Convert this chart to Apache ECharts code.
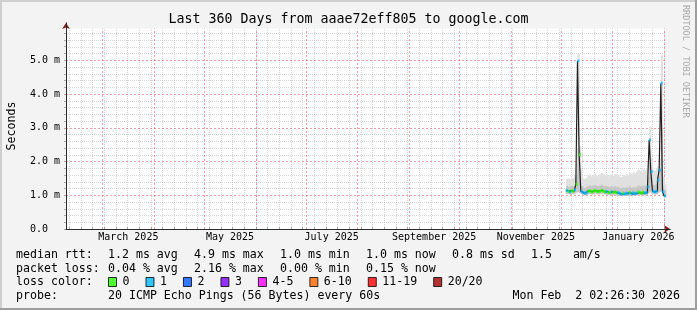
<!DOCTYPE html>
<html><head><meta charset="utf-8">
<script src="https://cdn.jsdelivr.net/npm/echarts@6/dist/echarts.min.js"></script>
<style>html,body{margin:0;padding:0;background:#f3f3f3}#c{width:697px;height:310px}</style>
</head><body><div id="c"></div>
<script>
// ---------- data ----------
const title = 'Last 360 Days from aaae72eff805 to google.com';
const rangeStart = '2025-02-07T02:26:30';
const rangeEnd = '2026-02-02T02:26:30';
const monthStarts = ['2025-03-01','2025-04-01','2025-05-01','2025-06-01','2025-07-01','2025-08-01',
  '2025-09-01','2025-10-01','2025-11-01','2025-12-01','2026-01-01','2026-02-01'];
const tickLabels = ['March 2025','May 2025','July 2025','September 2025','November 2025','January 2026'];
const tickLabelTimes = ['2025-03-16T12:00:00','2025-05-16T12:00:00','2025-07-16T12:00:00',
  '2025-09-16T00:00:00','2025-11-16T00:00:00','2026-01-16T12:00:00'];
const yTickValues = [0, 1, 2, 3, 4, 5];

const days = ['2025-12-04','2025-12-05','2025-12-06','2025-12-07','2025-12-08','2025-12-09','2025-12-10',
  '2025-12-11','2025-12-12','2025-12-13','2025-12-14','2025-12-15','2025-12-16','2025-12-17','2025-12-18',
  '2025-12-19','2025-12-20','2025-12-21','2025-12-22','2025-12-23','2025-12-24','2025-12-25','2025-12-26',
  '2025-12-27','2025-12-28','2025-12-29','2025-12-30','2025-12-31',
  '2026-01-01','2026-01-02','2026-01-03','2026-01-04','2026-01-05','2026-01-06','2026-01-07','2026-01-08',
  '2026-01-09','2026-01-10','2026-01-11','2026-01-12','2026-01-13','2026-01-14','2026-01-15','2026-01-16',
  '2026-01-17','2026-01-18','2026-01-19','2026-01-20','2026-01-21','2026-01-22','2026-01-23','2026-01-24',
  '2026-01-25','2026-01-26','2026-01-27','2026-01-28','2026-01-29','2026-01-30','2026-01-31','2026-02-01'];
// median RTT (ms)
const median = [1.14,1.12,1.10,1.13,1.12,1.16,1.32,4.98,2.20,1.12,1.08,1.06,1.08,1.12,1.13,1.10,1.12,1.14,1.12,1.10,
  1.12,1.15,1.12,1.10,1.11,1.09,1.08,1.10,
  1.08,1.10,1.07,1.08,1.05,1.03,1.06,1.04,1.06,1.05,1.08,1.04,1.07,1.05,1.06,1.10,1.08,1.06,1.09,1.07,1.08,1.25,
  2.64,1.70,1.12,1.10,1.12,1.45,1.75,4.32,1.10,0.98];
// smoke (ms): lowest ping, top of inner band, top of outer band
const smokeLo = [1.04,1.03,1.02,1.04,1.03,1.05,1.08,1.10,1.06,1.03,1.00,0.99,1.00,1.03,1.04,1.02,1.03,1.05,1.03,1.02,
  1.03,1.05,1.03,1.02,1.02,1.01,1.00,1.02,
  1.00,1.02,0.99,1.00,0.98,0.97,0.99,0.98,0.99,0.98,1.00,0.97,0.99,0.98,0.99,1.02,1.00,0.99,1.01,0.99,1.00,1.06,
  1.10,1.05,1.03,1.02,1.03,1.08,1.10,1.12,1.02,0.94];
const smokeMid = [1.28,1.26,1.25,1.28,1.27,1.32,1.60,2.40,1.80,1.28,1.24,1.22,1.25,1.28,1.30,1.27,1.29,1.31,1.28,1.27,
  1.29,1.32,1.29,1.27,1.28,1.26,1.25,1.27,
  1.25,1.28,1.24,1.26,1.22,1.21,1.24,1.22,1.24,1.23,1.27,1.22,1.25,1.23,1.25,1.30,1.28,1.26,1.30,1.28,1.30,1.55,
  1.95,1.55,1.32,1.30,1.33,1.55,1.75,3.00,1.28,1.15];
const smokeHi = [1.48,1.50,1.46,1.52,1.50,1.56,1.95,5.20,2.45,1.55,1.50,1.48,1.52,1.58,1.62,1.56,1.60,1.64,1.58,1.56,
  1.62,1.66,1.62,1.58,1.60,1.56,1.58,1.62,
  1.58,1.62,1.56,1.60,1.55,1.54,1.60,1.58,1.62,1.60,1.66,1.62,1.68,1.64,1.70,1.76,1.72,1.68,1.78,1.74,1.80,1.95,
  3.03,2.10,1.75,1.72,1.80,1.85,2.10,5.15,1.55,1.32];
// loss class index per day (0 -> "0", 1 -> "1", ...)
const lossClass = [1,0,1,0,0,1,0,1,0,1,1,1,1,0,0,0,0,0,0,0,0,0,0,0,1,0,0,1,
  0,0,0,1,1,1,0,1,1,1,0,1,1,1,1,0,0,0,0,1,1,1,1,1,1,1,1,1,1,1,1,1];
const lossNames = ['0','1','2','3','4-5','6-10','11-19','20/20'];
const lossColors = ['#26ff00','#00b8ff','#0059ff','#7e00ff','#ff00ff','#ff6600','#ff0000','#a10000'];

const legendRow1 = [['median rtt:',16],['1.2 ms avg',108],['4.9 ms max',194],['1.0 ms min',280],['1.0 ms now',366],['0.8 ms sd',452],['1.5   am/s',531]];
const legendRow2 = [['packet loss:',16],['0.04 % avg',108],['2.16 % max',194],['0.00 % min',280],['0.15 % now',366]];
const legendRow3 = [['loss color:',16]];
const legendRow4 = [['probe:',16],['20 ICMP Echo Pings (56 Bytes) every 60s',108]];
const stampText = 'Mon Feb  2 02:26:30 2026';
const watermark = 'RRDTOOL / TOBI OETIKER';

// ---------- helpers ----------
const DAY = 86400000;
const utc = s => Date.parse(s.length === 10 ? s + 'T00:00:00Z' : s + 'Z');
const noon = s => Date.parse(s + 'T12:00:00Z');
const X_MIN = utc(rangeStart);
const T_END = utc(rangeEnd);
const X_MAX = X_MIN + 362.4 * DAY;     // axis continues past the canvas to the arrow
const Y_MAX = 206 / 33.75;             // axis continues above the canvas to the arrow
const CANVAS_TOP = 5.94;
const MONO = '"DejaVu Sans Mono", monospace';

const labelTimes = tickLabelTimes.map(utc);
const dayTimes = days.map(noon);

const weekLines = [];
for (let t = utc('2025-02-09'); t < T_END; t += 7 * DAY) weekLines.push(t);
const minorY = [];
for (let i = 1; i * 0.2 < CANVAS_TOP; i++) if (i % 5) minorY.push(+(i * 0.2).toFixed(1));

const minorStyle = { color: 'rgba(143,143,143,0.38)', width: 1, type: [1, 1] };
const majorStyle = { color: 'rgba(222,48,48,0.45)', width: 1, type: [2, 2] };
const gridLines = [];
weekLines.forEach(t => gridLines.push([{ coord: [t, 0], lineStyle: minorStyle }, { coord: [t, CANVAS_TOP] }]));
minorY.forEach(v => gridLines.push([{ coord: [X_MIN, v], lineStyle: minorStyle }, { coord: [T_END, v] }]));
monthStarts.map(utc).forEach(t => gridLines.push([{ coord: [t, 0], lineStyle: majorStyle }, { coord: [t, CANVAS_TOP] }]));
yTickValues.slice(1).forEach(v => gridLines.push([{ coord: [X_MIN, v], lineStyle: majorStyle }, { coord: [T_END, v] }]));

const pts = arr => dayTimes.map((t, i) => [t, arr[i]]);
const smokeData = dayTimes.map((t, i) => [t, smokeLo[i], smokeMid[i], smokeHi[i]]);

const lossSeries = lossNames.map((name, k) => ({
  name, type: 'scatter', z: 6, symbol: 'rect', symbolSize: [2, 3], silent: true,
  itemStyle: { color: lossColors[k] },
  data: dayTimes.map((t, i) => lossClass[i] === k ? [t, median[i]] : null).filter(Boolean)
}));

const textEl = (text, x, y, extra) => ({
  type: 'text', x, y, silent: true,
  style: Object.assign({ text, fontFamily: MONO, fontSize: 11.6, fill: '#000',
    textAlign: 'left', textVerticalAlign: 'middle', align: 'left', verticalAlign: 'middle' }, extra || {})
});
const graphics = [
  { type: 'rect', shape: { x: 0, y: 0, width: 697, height: 2 }, style: { fill: '#cfcfcf' }, silent: true },
  { type: 'rect', shape: { x: 0, y: 0, width: 2, height: 310 }, style: { fill: '#cfcfcf' }, silent: true },
  { type: 'rect', shape: { x: 695, y: 0, width: 2, height: 310 }, style: { fill: '#9e9e9e' }, silent: true },
  { type: 'rect', shape: { x: 0, y: 308, width: 697, height: 2 }, style: { fill: '#9e9e9e' }, silent: true }
];
legendRow1.forEach(([s, x]) => graphics.push(textEl(s, x, 255)));
legendRow2.forEach(([s, x]) => graphics.push(textEl(s, x, 268.5)));
legendRow3.forEach(([s, x]) => graphics.push(textEl(s, x, 282)));
legendRow4.forEach(([s, x]) => graphics.push(textEl(s, x, 296)));
graphics.push(textEl(stampText, 680, 296, { textAlign: 'right', align: 'right' }));
graphics.push({ type: 'text', x: 690, y: 5, rotation: -Math.PI / 2, silent: true,
  style: { text: watermark, fontFamily: MONO, fontSize: 8.5, fill: '#a8a8a8', textAlign: 'left', align: 'left' } });

const axisFont = { fontFamily: MONO, fontSize: 10, color: '#000' };

const option = {
  animation: false,
  backgroundColor: '#f3f3f3',
  title: { text: title, left: 'center', top: 13, padding: 0,
    textStyle: { fontFamily: MONO, fontSize: 13.3, fontWeight: 'normal', color: '#000' } },
  grid: { left: 66, top: 23, width: 604, height: 206, containLabel: false, outerBoundsMode: 'none' },
  legend: {
    data: lossNames, left: 108, top: 276, padding: 0, icon: 'rect', itemWidth: 8, itemHeight: 9, itemGap: 16,
    selectedMode: false, itemStyle: { borderColor: '#000', borderWidth: 1 },
    textStyle: { fontFamily: MONO, fontSize: 11.6, color: '#000', padding: [0, 0, 0, 1] }
  },
  xAxis: [
    { type: 'value', position: 'bottom', min: X_MIN, max: X_MAX, z: 10,
      axisLine: { onZero: false, lineStyle: { color: '#2c2c2c', width: 1 } },
      axisTick: { show: true, inside: true, length: 2, customValues: weekLines,
        lineStyle: { color: 'rgba(143,143,143,0.7)' } },
      axisLabel: Object.assign({ customValues: labelTimes, margin: 3,
        formatter: v => { const i = labelTimes.findIndex(t => Math.abs(t - v) < 3600000); return i >= 0 ? tickLabels[i] : ''; } }, axisFont),
      splitLine: { show: false } },
    { type: 'value', position: 'bottom', min: X_MIN, max: X_MAX, z: 9,
      axisLine: { onZero: false, symbol: ['none', 'arrow'], symbolSize: [6, 6], lineStyle: { color: '#7f1f1f', width: 1 } },
      axisTick: { show: false }, axisLabel: { show: false }, splitLine: { show: false } }
  ],
  yAxis: [
    { type: 'value', position: 'left', min: 0, max: Y_MAX, z: 10,
      axisLine: { show: true, onZero: false, lineStyle: { color: '#2c2c2c', width: 1 } },
      axisTick: { show: true, length: 2, customValues: minorY.concat(yTickValues),
        lineStyle: { color: 'rgba(143,143,143,0.7)' } },
      axisLabel: Object.assign({ customValues: yTickValues, align: 'left', margin: 36,
        formatter: v => v === 0 ? '0.0' : v.toFixed(1) + ' m' }, axisFont),
      splitLine: { show: false },
      name: 'Seconds', nameLocation: 'middle', nameGap: 48, nameRotate: 90,
      nameTextStyle: { fontFamily: MONO, fontSize: 11.6, color: '#000' } },
    { type: 'value', position: 'left', min: 0, max: Y_MAX, z: 9,
      axisLine: { show: true, onZero: false, symbol: ['none', 'arrow'], symbolSize: [6, 6], lineStyle: { color: '#7f1f1f', width: 1 } },
      axisTick: { show: false }, axisLabel: { show: false }, splitLine: { show: false } }
  ],
  graphic: graphics,
  series: [
    { name: 'canvas', type: 'line', data: [], z: 1, silent: true,
      markArea: { silent: true, z: 1, itemStyle: { color: '#ffffff' },
        data: [[{ coord: [X_MIN, 0] }, { coord: [T_END, CANVAS_TOP] }]] } },
    { name: 'grid', type: 'line', data: [], z: 2, silent: true,
      markLine: { silent: true, z: 2, symbol: ['none', 'none'], label: { show: false }, animation: false, data: gridLines } },
    { name: 'smoke', type: 'custom', z: 3, silent: true, data: smokeData,
      encode: { x: 0, y: [1, 2, 3] },
      renderItem: (params, api) => {
        const t = api.value(0);
        const a = api.coord([t - DAY / 2, api.value(1)]);
        const b = api.coord([t + DAY / 2, api.value(2)]);
        const c = api.coord([t + DAY / 2, api.value(3)]);
        const w = b[0] - a[0] + 0.6;
        return { type: 'group', children: [
          { type: 'rect', shape: { x: a[0], y: c[1], width: w, height: b[1] - c[1] }, style: { fill: '#e0e0e0' } },
          { type: 'rect', shape: { x: a[0], y: b[1], width: w, height: a[1] - b[1] }, style: { fill: '#c6c6c6' } }
        ] };
      } },
    { name: 'median', type: 'line', step: 'middle', z: 5, silent: true, showSymbol: false,
      lineStyle: { color: '#202020', width: 1.2 }, data: pts(median) }
  ].concat(lossSeries)
};
const chart = echarts.init(document.getElementById('c'));
chart.setOption(option);
</script>
</body></html>
